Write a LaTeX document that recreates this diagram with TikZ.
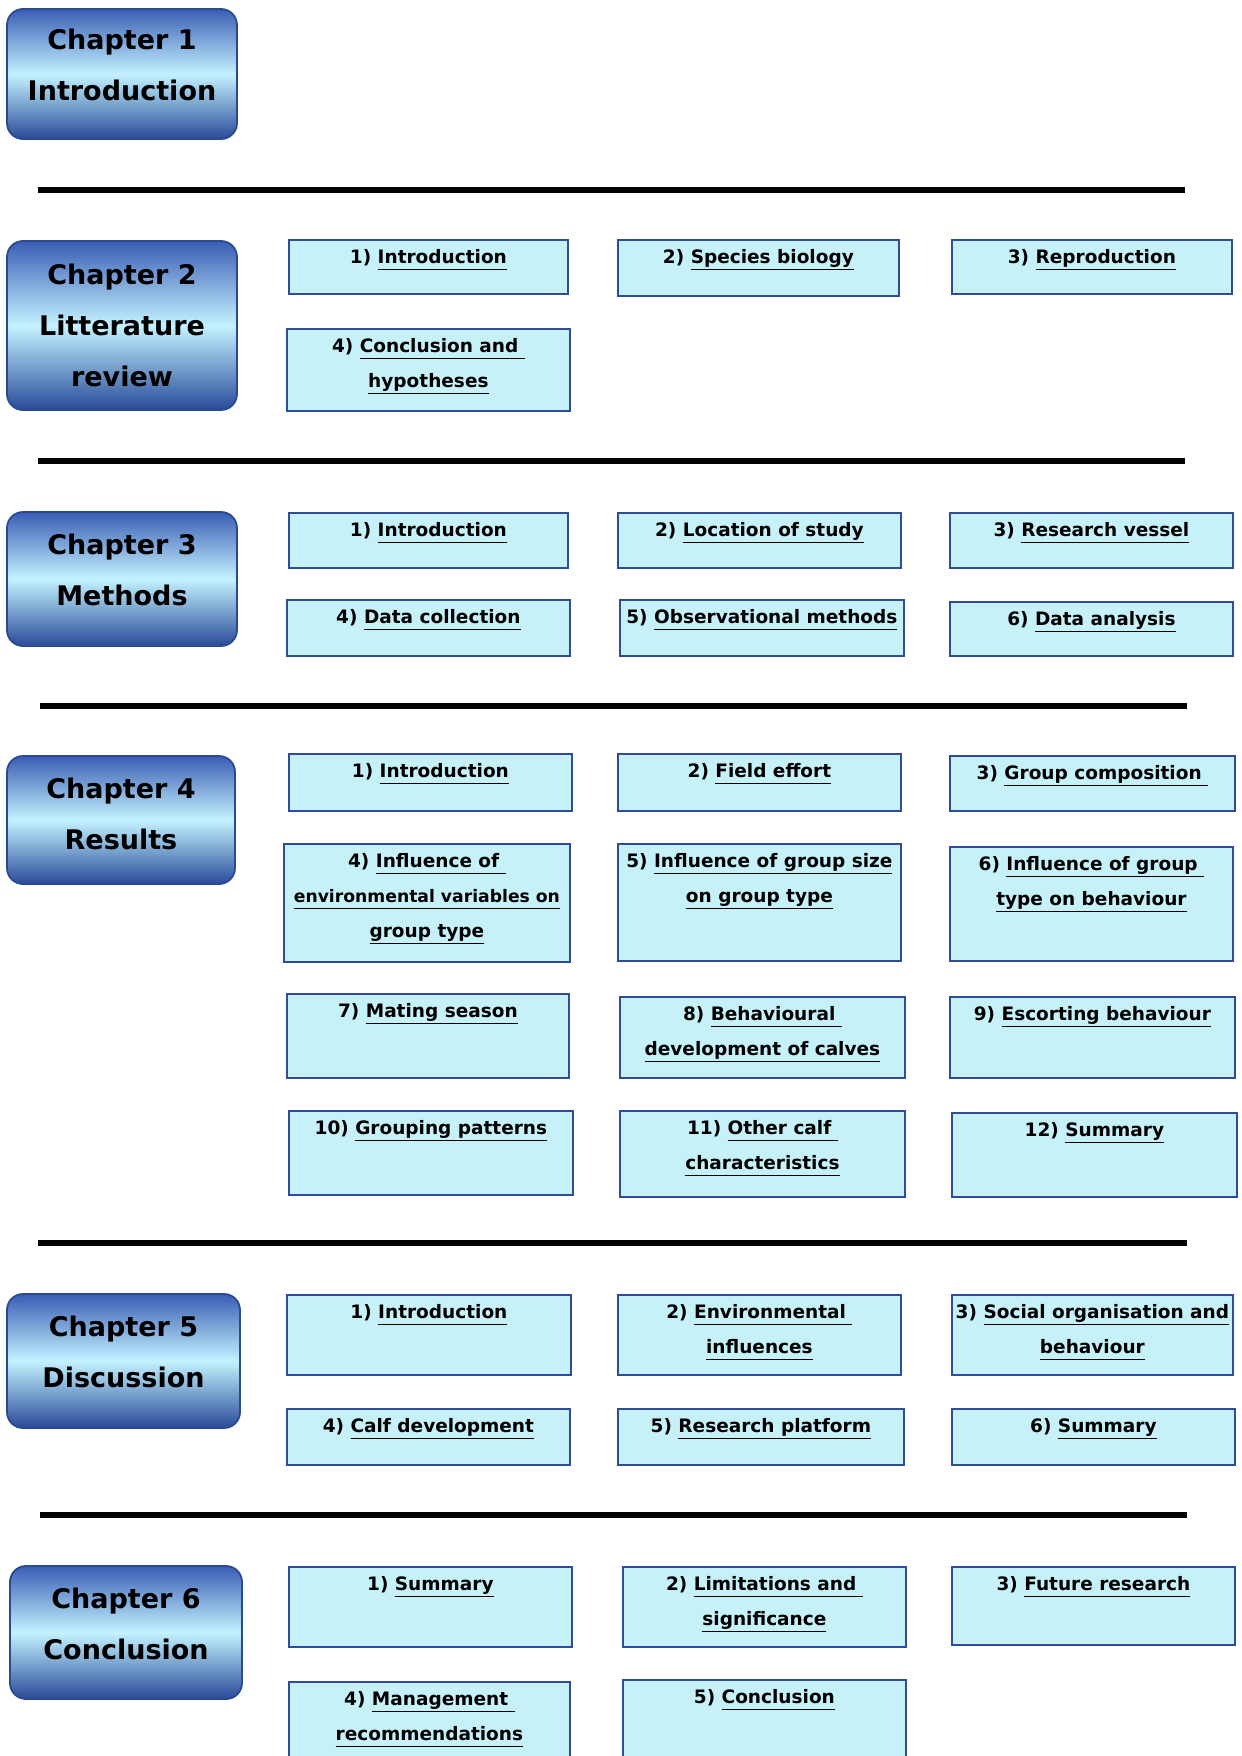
\documentclass[tikz,border=0pt]{standalone}
\usepackage{fontspec}
\setmainfont{DejaVu Sans}
\definecolor{secfill}{HTML}{C6F1F9}
\definecolor{secborder}{HTML}{2F4C9C}
\definecolor{chapborder}{HTML}{2C4A92}
\definecolor{chaptop}{HTML}{3A5DB4}
\definecolor{chapmid}{HTML}{C4F2FF}
\definecolor{chapbot}{HTML}{284A98}
\newcommand\ulx[1]{\leavevmode\setbox0\hbox{#1}\rlap{\rule[-6.5pt]{\wd0}{1.5pt}}\box0}
\tikzset{
  sect/.style={draw=secborder, line width=1.8pt, fill=secfill, inner sep=0pt, anchor=north west},
  chap/.style={draw=chapborder, line width=1.8pt, rounded corners=16pt,
     top color=chaptop, bottom color=chapbot, middle color=chapmid,
     font=\fontsize{27}{51}\selectfont\bfseries, align=center, inner sep=0pt},
  sepline/.style={line width=6pt, black}
}
% name, x1, y1, x2, y2, text
\newcommand\secbox[6]{\node[sect] (#1) at (#2,#3) {\parbox[t][\dimexpr #5pt-#3pt\relax][t]{\dimexpr #4pt-#2pt\relax}{\fontsize{18.5}{35}\selectfont\bfseries\centering\rule{0pt}{24pt}#6\par}};}
\newcommand\chapbox[6]{\node[chap, minimum width=\dimexpr #4pt-#2pt\relax, minimum height=\dimexpr #5pt-#3pt\relax] (#1) at ({(#2+#4)/2},{(#3+#5)/2}) {#6};}
\newcommand\lift{\rule[-18pt]{0pt}{18pt}}
\newcommand\sepat[4]{\coordinate (#1a) at (#2,#4); \coordinate (#1b) at (#3,#4); \draw[sepline] (#1a) -- (#1b);}
\begin{document}
\begin{tikzpicture}[x=1pt,y=-1pt]
\useasboundingbox (0,0) rectangle (1242,1756);
\clip (0,0) rectangle (1242,1756);
% Chapter 1
\chapbox{ch1}{7}{9}{237}{139}{Chapter 1\\Introduction\lift}
\sepat{s1}{38}{1185}{190}
% Chapter 2
\chapbox{ch2}{7}{241}{237}{410}{Chapter 2\\Litterature\\review}
\secbox{c2a}{288}{239}{567}{293}{1) \ulx{Introduction}}
\secbox{c2b}{617}{239}{898}{295}{2) \ulx{Species biology}}
\secbox{c2c}{951}{239}{1231}{293}{3) \ulx{Reproduction}}
\secbox{c2d}{286}{328}{569}{410}{4) \ulx{Conclusion and\ }\\\ulx{hypotheses}}
\sepat{s2}{38}{1185}{461}
% Chapter 3
\chapbox{ch3}{7}{512}{237}{646}{Chapter 3\\Methods\lift}
\secbox{c3a}{288}{512}{567}{567}{1) \ulx{Introduction}}
\secbox{c3b}{617}{512}{900}{567}{2) \ulx{Location of study}}
\secbox{c3c}{949}{512}{1232}{567}{3) \ulx{Research vessel}}
\secbox{c3d}{286}{599}{569}{655}{4) \ulx{Data collection}}
\secbox{c3e}{619}{599}{903}{655}{5) \ulx{Observational methods}}
\secbox{c3f}{949}{601}{1232}{655}{6) \ulx{Data analysis}}
\sepat{s3}{40}{1187}{706}
% Chapter 4
\chapbox{ch4}{7}{756}{235}{884}{Chapter 4\\Results\rule[-12pt]{0pt}{12pt}}
\secbox{c4a}{288}{753}{571}{810}{1) \ulx{Introduction}}
\secbox{c4b}{617}{753}{900}{810}{2) \ulx{Field effort}}
\secbox{c4c}{949}{755}{1234}{810}{3) \ulx{Group composition\ }}
\secbox{c4d}{283}{843}{569}{961}{4) \ulx{Influence of\ }\\{\fontsize{17.2}{35}\selectfont\ulx{environmental variables on}}\\\ulx{group type}}
\secbox{c4e}{617}{843}{900}{960}{5) \ulx{Influence of group size}\\\ulx{on group type}}
\secbox{c4f}{949}{846}{1232}{960}{6) \ulx{Influence of group\ }\\\ulx{type on behaviour}}
\secbox{c4g}{286}{993}{568}{1077}{7) \ulx{Mating season}}
\secbox{c4h}{619}{996}{904}{1077}{8) \ulx{Behavioural\ }\\\ulx{development of calves}}
\secbox{c4i}{949}{996}{1234}{1077}{9) \ulx{Escorting behaviour}}
\secbox{c4j}{288}{1110}{572}{1194}{10) \ulx{Grouping patterns}}
\secbox{c4k}{619}{1110}{904}{1196}{11) \ulx{Other calf\ }\\\ulx{characteristics}}
\secbox{c4l}{951}{1112}{1236}{1196}{12) \ulx{Summary}}
\sepat{s4}{38}{1187}{1243}
% Chapter 5
\chapbox{ch5}{7}{1294}{240}{1428}{Chapter 5\\Discussion\lift}
\secbox{c5a}{286}{1294}{570}{1374}{1) \ulx{Introduction}}
\secbox{c5b}{617}{1294}{900}{1374}{2) \ulx{Environmental\ }\\\ulx{influences}}
\secbox{c5c}{951}{1294}{1232}{1374}{3) \ulx{Social organisation and}\\\ulx{behaviour}}
\secbox{c5d}{286}{1408}{569}{1464}{4) \ulx{Calf development}}
\secbox{c5e}{617}{1408}{903}{1464}{5) \ulx{Research platform}}
\secbox{c5f}{951}{1408}{1234}{1464}{6) \ulx{Summary}}
\sepat{s5}{40}{1187}{1515}
% Chapter 6
\chapbox{ch6}{10}{1566}{242}{1699}{Chapter 6\\Conclusion\lift}
\secbox{c6a}{288}{1566}{571}{1646}{1) \ulx{Summary}}
\secbox{c6b}{622}{1566}{905}{1646}{2) \ulx{Limitations and\ }\\\ulx{significance}}
\secbox{c6c}{951}{1566}{1234}{1644}{3) \ulx{Future research}}
\secbox{c6d}{288}{1681}{569}{1775}{4) \ulx{Management\ }\\\ulx{recommendations}}
\secbox{c6e}{622}{1679}{905}{1775}{5) \ulx{Conclusion}}
\end{tikzpicture}
\end{document}
